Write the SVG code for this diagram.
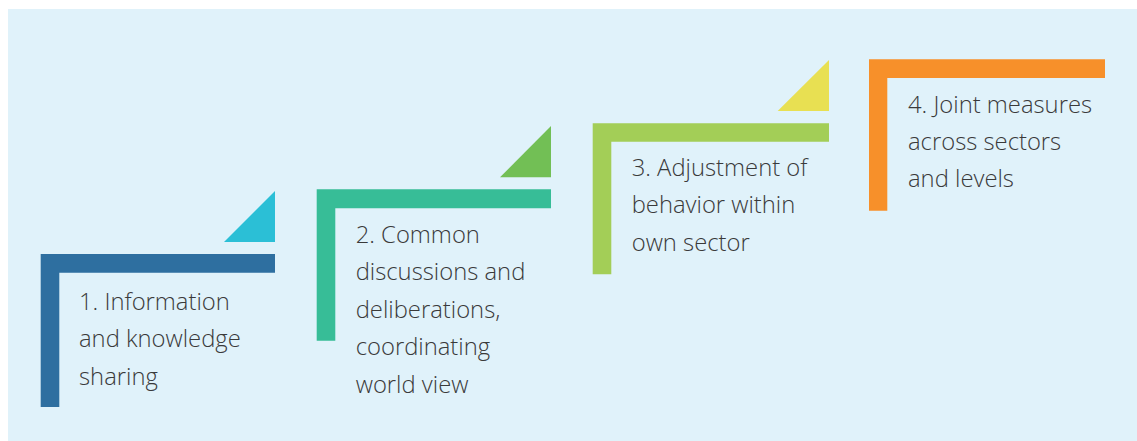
<svg xmlns="http://www.w3.org/2000/svg" width="1137" height="441" viewBox="0 0 1137 441">
<style>
.lbl{font-family:"Open Sans",Lato,"Liberation Sans",sans-serif;font-weight:300;font-size:23.8px;fill:#3a3a3a}
</style>
<rect x="0" y="0" width="1137" height="441" fill="#ffffff"/>
<rect x="8" y="9" width="1129" height="432" fill="#e0f2fa"/>
<g id="step1">
<polygon points="275,191 224,242 275,242" fill="#2bbfd6"/>
<path d="M40.7,254 H275 V272.7 H59.3 V407 H40.7 Z" fill="#2e6fa0"/>
<text class="lbl" x="79" y="309.5"><tspan x="79">1. Information</tspan><tspan x="79" dy="37.5">and knowledge</tspan><tspan x="79" dy="37.5">sharing</tspan></text>
</g>
<g id="step2">
<polygon points="551,126 500,177.3 551,177.3" fill="#72bf55"/>
<path d="M316.7,189.3 H551 V208.3 H335.3 V340.7 H316.7 Z" fill="#37bd97"/>
<text class="lbl" x="355.7" y="242.7"><tspan x="355.7">2. Common</tspan><tspan x="355.7" dy="37.5">discussions and</tspan><tspan x="355.7" dy="37.5">deliberations,</tspan><tspan x="355.7" dy="37.5">coordinating</tspan><tspan x="355.7" dy="37.5">world view</tspan></text>
</g>
<g id="step3">
<polygon points="829,60 777.7,111 829,111" fill="#e8e052"/>
<path d="M592.7,123.3 H829 V141.7 H611.3 V274.3 H592.7 Z" fill="#a3ce57"/>
<text class="lbl" x="631.7" y="175.7"><tspan x="631.7">3. Adjustment of</tspan><tspan x="631.7" dy="37.5">behavior within</tspan><tspan x="631.7" dy="37.5">own sector</tspan></text>
</g>
<g id="step4">
<path d="M869,59.3 H1105 V78 H887.3 V210.7 H869 Z" fill="#f7902a"/>
<text class="lbl" x="908" y="113.3"><tspan x="908">4. Joint measures</tspan><tspan x="908" dy="37">across sectors</tspan><tspan x="908" dy="37">and levels</tspan></text>
</g>
<g id="connectors"/>
</svg>
